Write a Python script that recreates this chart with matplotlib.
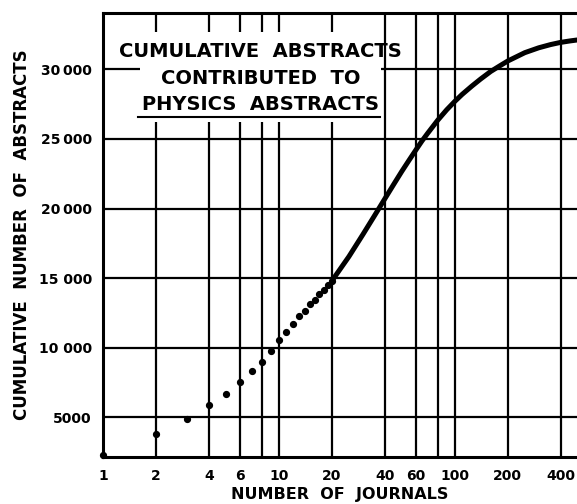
import matplotlib
matplotlib.use('Agg')
import matplotlib.pyplot as plt
from matplotlib.ticker import NullLocator, FixedLocator, FixedFormatter
from matplotlib.patches import Rectangle

# Individual journals (separate dots at the low end)
journals_dots = [1, 2, 3, 4, 5, 6, 7, 8, 9, 10, 11, 12, 13, 14, 15, 16, 17, 18, 19, 20]
abstracts_dots = [2300, 3770, 4900, 5870, 6670, 7540, 8330, 9010, 9780, 10530,
                  11160, 11740, 12290, 12650, 13140, 13450, 13850, 14170, 14490, 14800]

# Dense part of the curve (dots merge into a thick line)
journals_curve = [20, 25, 30, 35, 40, 45, 50, 55, 60, 65, 70, 80, 90, 100,
                  110, 125, 140, 160, 180, 200, 250, 300, 350, 400, 450, 495]
abstracts_curve = [14800, 16550, 18130, 19500, 20700, 21750, 22680, 23480, 24200, 24850,
                   25400, 26350, 27100, 27700, 28200, 28800, 29300, 29850, 30250, 30600,
                   31200, 31550, 31780, 31940, 32040, 32110]

x_ticks = [1, 2, 4, 6, 8, 10, 20, 40, 60, 80, 100, 200, 400]
x_labels = ['1', '2', '4', '6', '', '10', '20', '40', '60', '', '100', '200', '400']
y_ticks = [5000, 10000, 15000, 20000, 25000, 30000]
y_labels = ['5000', '10 000', '15 000', '20\u2009000', '25\u2009000', '30\u2009000']

title_lines = ['CUMULATIVE  ABSTRACTS', 'CONTRIBUTED  TO', 'PHYSICS  ABSTRACTS']

fig = plt.figure(figsize=(5.77, 5.04), dpi=100)
ax = fig.add_axes([103 / 577, 1 - 457 / 504, 474 / 577, 444 / 504])

ax.set_xscale('log')
ax.set_xlim(1, 495)
ax.set_ylim(2150, 34050)

ax.xaxis.set_major_locator(FixedLocator(x_ticks))
ax.xaxis.set_major_formatter(FixedFormatter(x_labels))
ax.xaxis.set_minor_locator(NullLocator())
ax.set_yticks(y_ticks)
ax.set_yticklabels(y_labels)

ax.tick_params(axis='both', length=0, labelsize=10)
ax.tick_params(axis='x', pad=9)
ax.tick_params(axis='y', pad=8)
for lab in ax.get_xticklabels() + ax.get_yticklabels():
    lab.set_fontweight('bold')

ax.set_axisbelow(True)
ax.grid(True, color='black', linewidth=1.6)

for side in ['left', 'bottom', 'top']:
    ax.spines[side].set_linewidth(2.2)
ax.spines['right'].set_visible(False)

# white area behind the title text
ax.add_patch(Rectangle((0.078, 0.7545), 0.5085, 0.2025, transform=ax.transAxes,
                       facecolor='white', edgecolor='none', zorder=1))

ax.plot(journals_dots, abstracts_dots, 'o', color='black', markersize=4.2,
        clip_on=False, zorder=3)
ax.plot(journals_curve, abstracts_curve, '-', color='black', linewidth=3.6,
        solid_capstyle='round', solid_joinstyle='round', zorder=3)

for text, yy in zip(title_lines, [0.9144, 0.8536, 0.7928]):
    ax.text(0.333, yy, text, transform=ax.transAxes, ha='center', va='center',
            fontsize=14, fontweight='bold', zorder=4)
ax.plot([0.0738, 0.5844], [0.7658, 0.7658], color='black', linewidth=1.5,
        transform=ax.transAxes, zorder=4)

fig.text(22 / 577, 1 - 235 / 504, 'CUMULATIVE  NUMBER  OF  ABSTRACTS', rotation=90,
         ha='center', va='center', fontsize=12, fontweight='bold')
fig.text(340 / 577, 1 - 495 / 504, 'NUMBER  OF  JOURNALS', ha='center', va='center',
         fontsize=11.5, fontweight='bold')

fig.savefig('out.png', dpi=100)
